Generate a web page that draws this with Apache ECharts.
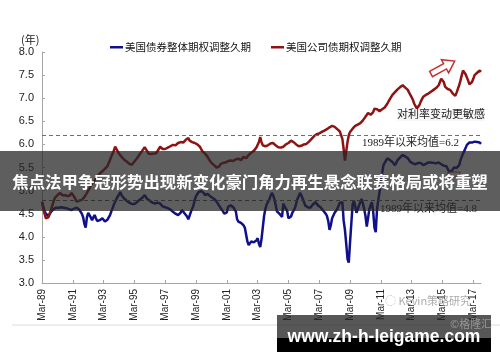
<!DOCTYPE html>
<html>
<head>
<meta charset="utf-8">
<script src="https://cdn.jsdelivr.net/npm/echarts@6/dist/echarts.min.js"></script>
<style>
html,body{margin:0;padding:0;background:#fff;}
#chart{width:500px;height:362px;}
</style>
</head>
<body>
<div id="chart"></div>
<script>
// ---------- DATA ----------
const seriesNames = ['美国债券整体期权调整久期', '美国公司债期权调整久期'];
const monthNames = ['Mar','Apr','May','Jun','Jul','Aug','Sep','Oct','Nov','Dec','Jan','Feb'];
const startYear = 1989;
const monthCount = 343; // Mar-89 .. Sep-17
const yTicks = [3.0, 3.5, 4.0, 4.5, 5.0, 5.5, 6.0, 6.5, 7.0, 7.5, 8.0];
const averages = [6.2, 4.8];
const averageLabels = ['1989年以来均值=6.2', '1989年以来均值=4.8'];

const govOAD = [
4.75,4.65,4.56,4.50,4.46,4.45,4.48,4.54,4.58,4.60,4.62,4.63,
4.64,4.63,4.65,4.64,4.62,4.63,4.61,4.62,4.63,4.60,4.61,4.58,
4.59,4.61,4.62,4.63,4.60,4.59,4.56,4.50,4.43,4.28,4.20,4.42,
4.52,4.47,4.42,4.36,4.42,4.47,4.40,4.34,4.30,4.36,4.40,4.40,
4.36,4.33,4.35,4.37,4.40,4.47,4.55,4.62,4.70,4.76,4.82,4.87,
4.92,4.97,4.90,4.86,4.83,4.80,4.78,4.75,4.74,4.72,4.71,4.69,
4.71,4.73,4.75,4.77,4.80,4.82,4.84,4.86,4.90,4.86,4.82,4.80,
4.78,4.76,4.74,4.73,4.72,4.72,4.74,4.75,4.72,4.70,4.66,4.65,
4.64,4.64,4.62,4.60,4.59,4.57,4.54,4.52,4.50,4.49,4.47,4.49,
4.52,4.58,4.55,4.51,4.48,4.44,4.38,4.46,4.54,4.58,4.68,4.80,
4.88,4.92,4.97,4.98,4.99,5.01,4.95,4.90,4.94,4.93,4.90,4.88,
4.86,4.84,4.82,4.80,4.77,4.72,4.68,4.63,4.59,4.55,4.50,4.47,
4.53,4.65,4.67,4.68,4.69,4.64,4.60,4.55,4.38,4.33,4.30,4.30,
4.30,4.25,4.20,4.05,3.90,3.82,3.85,3.90,3.92,3.88,3.85,3.92,
3.97,3.85,3.78,3.95,4.20,4.45,4.60,4.70,4.75,4.80,4.88,4.95,
4.90,4.82,4.70,4.55,4.54,4.50,4.47,4.43,4.72,4.66,4.62,4.56,
4.40,4.36,4.44,4.52,4.56,4.62,4.72,4.82,4.88,4.95,4.90,4.83,
4.76,4.68,4.66,4.64,4.62,4.63,4.67,4.70,4.73,4.75,4.71,4.68,
4.66,4.64,4.60,4.57,4.53,4.50,4.45,4.34,4.15,4.25,4.40,4.46,
4.52,4.56,4.60,4.64,4.74,4.78,4.75,4.35,4.15,3.85,3.52,3.44,
3.89,4.30,4.70,4.78,4.66,4.52,4.55,4.68,4.75,4.82,4.72,4.60,
4.45,4.22,4.40,4.60,4.68,4.75,4.55,4.20,4.10,4.60,4.80,4.98,
5.20,5.38,5.55,5.60,5.65,5.70,5.68,5.66,5.63,5.62,5.58,5.55,
5.60,5.66,5.70,5.72,5.74,5.77,5.75,5.74,5.73,5.70,5.66,5.62,
5.60,5.59,5.58,5.57,5.59,5.60,5.61,5.60,5.57,5.55,5.57,5.58,
5.60,5.61,5.60,5.61,5.62,5.60,5.58,5.59,5.60,5.61,5.60,5.57,
5.55,5.54,5.52,5.53,5.50,5.42,5.38,5.42,5.46,5.50,5.52,5.49,
5.50,5.55,5.66,5.73,5.80,5.86,5.92,5.99,6.03,6.04,6.05,6.04,
6.05,6.06,6.05,6.05,6.07,6.04,6.01
];

const corpOAD = [
4.76,4.62,4.50,4.40,4.37,4.42,4.45,4.58,4.68,4.76,4.84,4.86,
4.90,4.88,4.95,4.93,4.90,4.87,4.90,4.86,4.88,4.92,4.90,4.95,
4.93,4.87,4.82,4.76,4.73,4.78,4.76,4.80,4.84,4.86,4.90,4.95,
5.00,5.05,5.10,5.15,5.19,5.22,5.26,5.30,5.33,5.37,5.40,5.42,
5.45,5.47,5.50,5.53,5.60,5.66,5.74,5.80,5.87,5.95,5.90,5.85,
5.80,5.76,5.73,5.70,5.67,5.66,5.63,5.60,5.58,5.57,5.56,5.60,
5.63,5.66,5.70,5.73,5.78,5.82,5.86,5.90,5.94,5.92,5.85,5.80,
5.77,5.79,5.83,5.80,5.78,5.81,5.84,5.90,5.95,5.93,5.90,5.88,
5.90,5.92,5.93,5.95,5.96,5.95,5.99,6.00,5.98,6.02,6.03,6.05,
6.05,6.06,6.04,6.07,6.10,6.12,6.14,6.08,6.10,6.05,6.07,6.03,
6.00,6.00,5.97,5.95,5.90,5.85,5.82,5.80,5.76,5.73,5.68,5.64,
5.60,5.58,5.55,5.52,5.50,5.47,5.52,5.57,5.60,5.60,5.58,5.61,
5.62,5.64,5.62,5.65,5.62,5.64,5.66,5.68,5.66,5.69,5.67,5.66,
5.70,5.73,5.75,5.70,5.72,5.77,5.80,5.82,5.83,5.86,5.90,5.93,
5.95,6.05,6.16,6.05,5.98,5.95,5.96,5.93,5.98,6.00,6.02,6.00,
6.03,6.00,5.98,5.96,5.94,5.96,5.93,5.92,5.95,5.98,6.00,6.02,
6.03,6.06,6.08,6.10,6.05,6.02,6.00,5.97,5.96,5.95,5.97,5.99,
6.00,6.02,6.01,6.03,6.06,6.09,6.12,6.15,6.18,6.20,6.22,6.22,
6.24,6.26,6.27,6.28,6.30,6.31,6.33,6.35,6.37,6.36,6.40,6.39,
6.38,6.36,6.33,6.30,6.28,6.20,6.12,5.90,5.65,5.85,6.05,6.20,
6.27,6.30,6.34,6.36,6.40,6.41,6.43,6.45,6.46,6.49,6.52,6.56,
6.60,6.64,6.68,6.66,6.64,6.64,6.70,6.77,6.79,6.76,6.74,6.72,
6.73,6.76,6.78,6.80,6.83,6.88,6.93,6.98,7.02,7.07,7.10,7.13,
7.16,7.19,7.21,7.24,7.26,7.28,7.26,7.23,7.22,7.18,7.12,7.08,
7.02,6.96,6.88,6.83,6.78,6.76,6.85,6.92,6.98,7.03,7.05,7.07,
7.08,7.10,7.13,7.14,7.16,7.18,7.19,7.22,7.24,7.28,7.35,7.42,
7.46,7.35,7.25,7.22,7.20,7.19,7.18,7.14,7.10,7.07,7.05,7.12,
7.20,7.28,7.38,7.50,7.60,7.57,7.52,7.45,7.38,7.30,7.28,7.35,
7.42,7.50,7.52,7.55,7.57,7.60,7.57
];

// ---------- BUILD ----------
const categories = [];
for (let i = 0; i < monthCount; i++) {
  const mi = i % 12;
  const yr = startYear + Math.floor(i / 12) + (mi >= 10 ? 1 : 0);
  categories.push(monthNames[mi] + '-' + String(yr % 100).padStart(2, '0'));
}

const blue = '#10108a';
const red = '#8e1414';
const cjk = '"Noto Sans CJK SC", sans-serif';
const serifCjk = '"Liberation Serif", "Noto Sans CJK SC", serif';

const chart = echarts.init(document.getElementById('chart'), null, {renderer: 'canvas'});

// hollow arrow polygon (local coords, pointing +x)
const arrowPts = [[0,-3],[16,-3],[16,-7.5],[27,0],[16,7.5],[16,3],[0,3]];

chart.setOption({
  animation: false,
  backgroundColor: '#fff',
  grid: {left: 42, right: 19, top: 52, bottom: 79, containLabel: false},
  legend: {
    left: 105, top: 37, icon: 'rect', itemWidth: 13, itemHeight: 2.5, itemGap: 20,
    textStyle: {fontFamily: cjk, fontSize: 10.5, color: '#111', padding: [0,0,0,-3]},
    data: seriesNames
  },
  xAxis: {
    type: 'category', data: categories, boundaryGap: false,
    axisLine: {lineStyle: {color: '#a6a6a6', width: 1}},
    axisTick: {inside: true, length: 3, interval: 23, lineStyle: {color: '#a6a6a6'}},
    axisLabel: {interval: 23, rotate: 90, margin: 6, fontSize: 10,
      fontFamily: '"Liberation Sans", Arial, sans-serif', color: '#222'},
    splitLine: {show: false}
  },
  yAxis: {
    type: 'value', min: yTicks[0], max: yTicks[yTicks.length - 1], interval: 0.5,
    axisLine: {show: true, lineStyle: {color: '#a6a6a6', width: 1}},
    axisTick: {show: true, inside: true, length: 3, lineStyle: {color: '#a6a6a6'}},
    axisLabel: {formatter: v => v.toFixed(1), fontSize: 11, margin: 8,
      fontFamily: '"Liberation Sans", Arial, sans-serif', color: '#222'},
    splitLine: {show: false}
  },
  series: [
    {
      name: seriesNames[0], type: 'line', data: govOAD, showSymbol: false, symbol: 'none',
      lineStyle: {color: blue, width: 2.5}, itemStyle: {color: blue}, z: 3,
      markLine: {
        silent: true, symbol: 'none', label: {show: false},
        lineStyle: {color: '#555', type: [4, 3], width: 1},
        data: [{yAxis: averages[1]}]
      }
    },
    {
      name: seriesNames[1], type: 'line', data: corpOAD, showSymbol: false, symbol: 'none',
      lineStyle: {color: red, width: 2.5}, itemStyle: {color: red}, z: 4,
      markLine: {
        silent: true, symbol: 'none', label: {show: false},
        lineStyle: {color: '#b05050', type: [4, 3], width: 1},
        data: [{yAxis: averages[0]}]
      }
    }
  ],
  graphic: [
    {type: 'text', left: 21, top: 34, style: {text: '(年)', font: '11px ' + cjk, fill: '#222'}},
    {type: 'text', left: 397, top: 110, z: 10, style: {text: '对利率变动更敏感', font: '11px ' + serifCjk, fill: '#222',
      backgroundColor: 'rgba(240,240,240,0.6)'}},
    {type: 'text', left: 362, top: 138, z: 10, style: {text: averageLabels[0], font: '11px ' + serifCjk, fill: '#222'}},
    {type: 'text', left: 380, top: 204, z: 10, style: {text: averageLabels[1], font: '11px ' + serifCjk, fill: '#222'}},
    {type: 'polygon', x: 431, y: 74, rotation: 0.5, z: 10,
      shape: {points: arrowPts}, style: {fill: '#fff', stroke: '#c83030', lineWidth: 1.5}},
    {type: 'rect', z: 10, shape: {x: 448, y: 172, width: 12, height: 5},
      style: {fill: 'none', stroke: '#c04040', lineWidth: 1}},
    {type: 'line', z: 1, shape: {x1: 12, y1: 325, x2: 500, y2: 325}, style: {stroke: '#dcdcdc', lineWidth: 1}},
    {type: 'text', left: 385, top: 295, z: 12, style: {text: '◌ Kevin策略研究', font: '11px ' + cjk, fill: 'rgba(150,150,150,0.8)'}},
    // overlay banner
    {type: 'rect', z: 50, shape: {x: 0, y: 151, width: 500, height: 60}, style: {fill: 'rgba(38,38,38,0.74)'}},
    {type: 'text', z: 51, x: 250, y: 182, style: {text: '焦点法甲争冠形势出现新变化豪门角力再生悬念联赛格局或将重塑',
      font: 'bold 16.4px ' + cjk, fill: '#fff', textAlign: 'center', textVerticalAlign: 'middle'}},
    // bottom url box
    {type: 'rect', z: 50, shape: {x: 277, y: 315, width: 214, height: 23}, style: {fill: 'rgba(40,40,40,0.78)'}},
    {type: 'rect', z: 50, shape: {x: 277, y: 338, width: 214, height: 14}, style: {fill: '#000'}},
    {type: 'text', z: 51, x: 450, y: 318, style: {text: '©格隆汇', font: '11px ' + cjk, fill: 'rgba(200,200,200,0.55)'}},
    {type: 'text', z: 52, x: 384, y: 337, style: {text: 'www.zh-h-leigame.com',
      font: 'bold 17.5px "Liberation Sans", Arial, sans-serif', fill: '#fff', textAlign: 'center', textVerticalAlign: 'middle'}}
  ]
});
</script>
</body>
</html>
